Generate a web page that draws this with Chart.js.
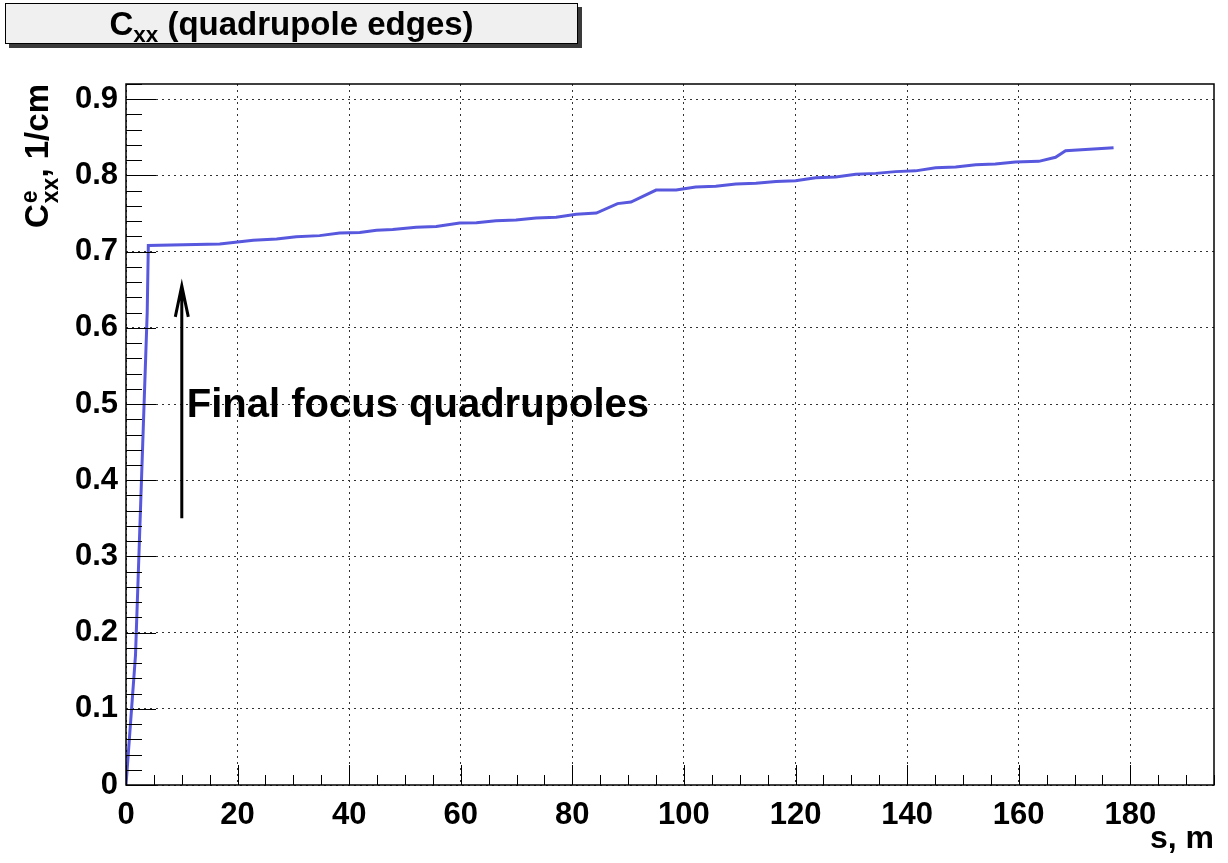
<!DOCTYPE html>
<html>
<head>
<meta charset="utf-8">
<script src="https://cdn.jsdelivr.net/npm/chart.js@4.4.1/dist/chart.umd.min.js"></script>
<style>
  body { margin: 0; background: #fff; }
  #wrap { position: relative; width: 1228px; height: 863px; }
  #chart-box { position: absolute; left: 0; top: 0; width: 1228px; height: 863px; }
  #title-box {
    position: absolute; left: 5px; top: 3px; width: 571px; height: 39px; z-index: 2;
    border: 1px solid #000; background: #f0f0f0; box-shadow: 4px 4px 0 #3a3a3a;
    font: bold 33px 'Liberation Sans', Arial, sans-serif; text-align: center; line-height: 39px;
  }
  #title-box sub { font-size: 0.68em; vertical-align: -0.3em; line-height: 0; }
</style>
</head>
<body>
<div id="wrap">
  <div id="title-box">C<sub>xx</sub> (quadrupole edges)</div>
  <div id="chart-box"><canvas id="cxx-chart"></canvas></div>
</div>
<script>
// position along the beamline, m
const sValues = [0, 1.7, 3.8, 4.0, 16.8, 20.4, 22.8, 27.0, 30.5, 34.7, 38.3, 41.9, 44.9, 47.8,
  52.0, 55.6, 59.8, 62.8, 66.3, 69.9, 73.5, 77.1, 80.7, 84.3, 88.1, 90.5, 95.0, 98.6, 102.1,
  105.7, 109.3, 112.9, 116.5, 120.0, 123.6, 127.2, 130.8, 134.4, 137.9, 141.5, 145.1, 148.7,
  152.3, 155.8, 159.4, 163.6, 166.6, 168.4, 177.0];
// accumulated chromaticity from quadrupole edges, 1/cm
const cxxValues = [0, 0.17, 0.62, 0.708, 0.710, 0.713, 0.715, 0.7165, 0.7196, 0.721, 0.7244, 0.725,
  0.728, 0.729, 0.732, 0.733, 0.7375, 0.738, 0.7406, 0.7415, 0.744, 0.745, 0.749, 0.7507, 0.763,
  0.765, 0.7808, 0.781, 0.7848, 0.7857, 0.7887, 0.7896, 0.792, 0.793, 0.797, 0.798, 0.8014,
  0.8027, 0.805, 0.806, 0.810, 0.811, 0.814, 0.815, 0.8176, 0.8185, 0.8238, 0.8325, 0.8364];

const xTicks = [0, 20, 40, 60, 80, 100, 120, 140, 160, 180];
const yTicks = [0, 0.1, 0.2, 0.3, 0.4, 0.5, 0.6, 0.7, 0.8, 0.9];
const xTickLabels = ['0', '20', '40', '60', '80', '100', '120', '140', '160', '180'];
const yTickLabels = ['0', '0.1', '0.2', '0.3', '0.4', '0.5', '0.6', '0.7', '0.8', '0.9'];

const X_MAX = 195;
const Y_MAX = 0.92;

// annotation: arrow and label (data coordinates)
const arrowS = 10;
const arrowFrom = 0.35;
const arrowTo = 0.655;
const noteText = 'Final focus quadrupoles';
const noteS = 10.9;
const noteY = 0.483;

const FONT = "'Liberation Sans', Arial, Helvetica, sans-serif";

const rootFrame = {
    id: 'rootFrame',
    afterDraw(chart) {
        const { ctx, chartArea: a, scales: { x, y } } = chart;
        ctx.save();
        ctx.strokeStyle = '#000';
        ctx.lineWidth = 1;
        ctx.beginPath();
        for (let v = 0; v <= X_MAX; v += 5) {
            const px = Math.round(x.getPixelForValue(v)) + 0.5;
            const len = v % 20 === 0 ? 20 : 10;
            ctx.moveTo(px, a.bottom);
            ctx.lineTo(px, a.bottom - len);
        }
        for (let i = 0; i * 0.02 <= Y_MAX; i++) {
            const py = Math.round(y.getPixelForValue(i * 0.02)) + 0.5;
            const len = i % 5 === 0 ? 30 : 16;
            ctx.moveTo(a.left, py);
            ctx.lineTo(a.left + len, py);
        }
        ctx.stroke();

        ctx.lineWidth = 1.5;
        ctx.strokeRect(a.left, a.top, a.right - a.left, a.bottom - a.top);

        // arrow
        const ax = x.getPixelForValue(arrowS);
        const ay0 = y.getPixelForValue(arrowFrom);
        const ay1 = y.getPixelForValue(arrowTo);
        ctx.lineWidth = 3;
        ctx.beginPath();
        ctx.moveTo(ax, ay0);
        ctx.lineTo(ax, ay1);
        ctx.moveTo(ax - 6.5, ay1 + 31);
        ctx.lineTo(ax, ay1);
        ctx.lineTo(ax + 6.5, ay1 + 31);
        ctx.stroke();

        ctx.fillStyle = '#000';
        ctx.font = 'bold 40px ' + FONT;
        ctx.textAlign = 'left';
        ctx.textBaseline = 'alphabetic';
        ctx.fillText(noteText, x.getPixelForValue(noteS), y.getPixelForValue(noteY));

        // y axis title: C^e_xx, 1/cm
        ctx.translate(48, 228);
        ctx.rotate(-Math.PI / 2);
        ctx.font = 'bold 33px ' + FONT;
        const wC = ctx.measureText('C').width;
        ctx.fillText('C', 0, 0);
        ctx.font = 'bold 23px ' + FONT;
        ctx.fillText('e', wC + 1, -11);
        ctx.fillText('xx', wC + 1, 10);
        const wSub = ctx.measureText('xx').width;
        ctx.font = 'bold 33px ' + FONT;
        ctx.fillText(', 1/cm', wC + wSub + 1, 0);
        ctx.restore();
    }
};

const ctx = document.getElementById('cxx-chart').getContext('2d');
new Chart(ctx, {
    type: 'line',
    data: {
        datasets: [{
            label: 'Cxx',
            data: sValues.map((s, i) => ({ x: s, y: cxxValues[i] })),
            borderColor: '#5858de',
            borderWidth: 3,
            pointRadius: 0,
            tension: 0,
            fill: false
        }]
    },
    options: {
        responsive: true,
        maintainAspectRatio: false,
        animation: false,
        layout: { padding: { top: 84, right: 14, left: 0, bottom: 0 } },
        plugins: {
            legend: { display: false },
            tooltip: { enabled: false }
        },
        scales: {
            x: {
                type: 'linear',
                min: 0,
                max: X_MAX,
                afterBuildTicks: scale => { scale.ticks = xTicks.map(v => ({ value: v })); },
                afterFit: scale => { scale.height = 78; },
                ticks: {
                    includeBounds: false,
                    color: '#000',
                    padding: 12,
                    maxRotation: 0,
                    font: { family: FONT, size: 31, weight: 'bold' },
                    callback: (v) => xTickLabels[xTicks.indexOf(v)]
                },
                grid: {
                    color: '#333',
                    lineWidth: 1,
                    drawTicks: false
                },
                border: { display: false, dash: [2, 4] },
                title: {
                    display: true,
                    text: 's, m',
                    align: 'end',
                    color: '#000',
                    font: { family: FONT, size: 32, weight: 'bold' },
                    padding: { top: 0, bottom: 5 }
                }
            },
            y: {
                min: 0,
                max: Y_MAX,
                afterBuildTicks: scale => { scale.ticks = yTicks.map(v => ({ value: v })); },
                afterFit: scale => { scale.width = 126; },
                ticks: {
                    includeBounds: false,
                    color: '#000',
                    padding: 8,
                    font: { family: FONT, size: 31, weight: 'bold' },
                    callback: (v) => yTickLabels[yTicks.indexOf(v)]
                },
                grid: {
                    color: '#333',
                    lineWidth: 1,
                    drawTicks: false
                },
                border: { display: false, dash: [2, 4] }
            }
        }
    },
    plugins: [rootFrame]
});
</script>
</body>
</html>
